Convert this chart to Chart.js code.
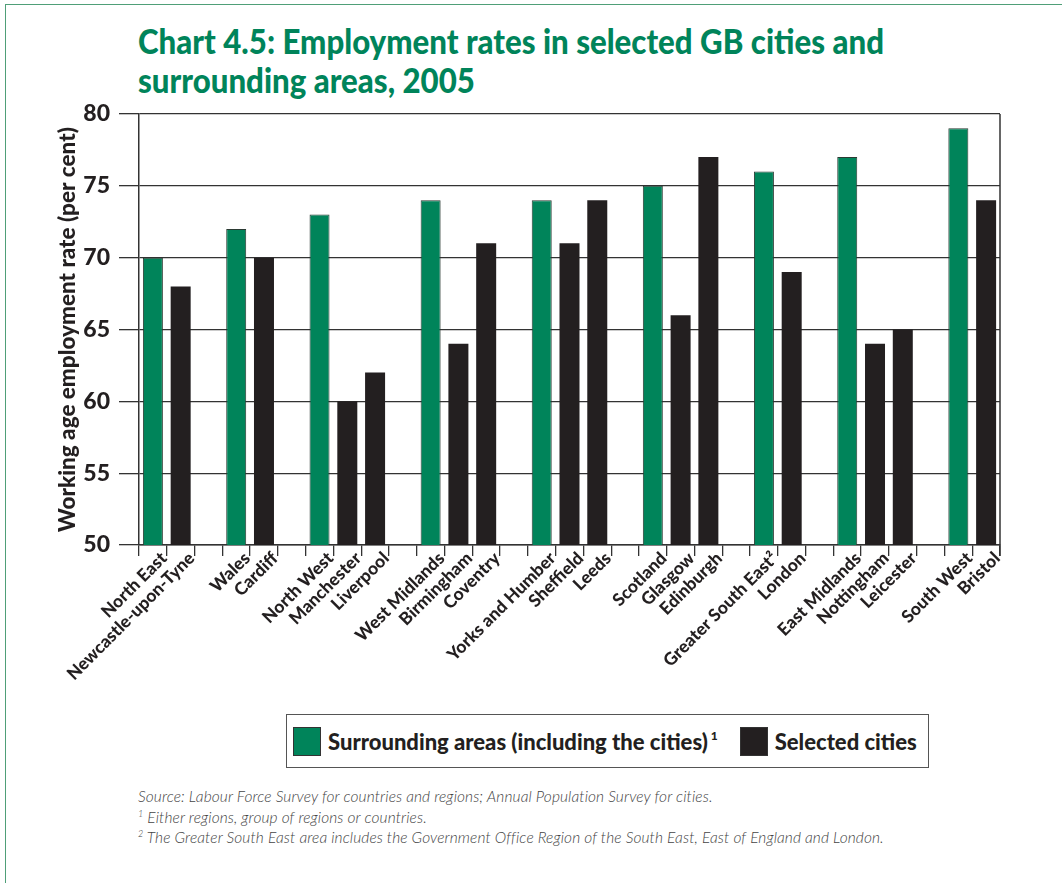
<!DOCTYPE html>
<html>
<head>
<meta charset="utf-8">
<script src="https://cdn.jsdelivr.net/npm/chart.js@4.4.1/dist/chart.umd.min.js"></script>
<style>
  body { margin: 0; background: #fff; font-family: Lato, sans-serif; }
  #page { position: relative; width: 1062px; height: 883px; overflow: hidden; }
  #frame { position: absolute; left: 5px; top: 4px; width: 1200px; height: 1000px;
    border-top: 1.5px solid #4f9f78; border-left: 1.5px solid #4f9f78; }
  .title { position: absolute; left: 138px; color: #00845a; font-weight: 900; font-size: 34px;
    white-space: nowrap; transform-origin: left center; }
  #chartBox { position: absolute; left: 0; top: 0; width: 1062px; height: 700px; }
  #legend { position: absolute; left: 286px; top: 714px; width: 643px; height: 54px;
    border: 1.5px solid #555; display: flex; align-items: center; box-sizing: border-box; }
  .item { display: flex; align-items: center; font-weight: 900; font-size: 22px; color: #231f20;
    white-space: nowrap; flex: none; }
  .swatch { width: 28px; height: 29px; border: 1px solid #333; box-sizing: border-box; margin-right: 7px; }
  .notes { position: absolute; left: 138px; top: 786px; font-style: italic; font-weight: 300;
    font-size: 15.5px; color: #444; line-height: 20.5px; letter-spacing: 0.1px; }
  .notes sup { font-size: 9px; vertical-align: 6px; line-height: 0; }
</style>
</head>
<body>
<div id="page">
  <div id="frame"></div>
  <div class="title" id="t1" style="top:20px">Chart 4.5: Employment rates in selected GB cities and</div>
  <div class="title" id="t2" style="top:59px">surrounding areas, 2005</div>
  <div id="chartBox"><canvas id="chart"></canvas></div>
  <div id="legend"></div>
  <div class="notes">
    <div>Source: Labour Force Survey for countries and regions; Annual Population Survey for cities.</div>
    <div><sup>1</sup> Either regions, group of regions or countries.</div>
    <div><sup>2</sup> The Greater South East area includes the Government Office Region of the South East, East of England and London.</div>
  </div>
</div>
<script>
// empty strings are the gaps between groups
const categories = ['North East', 'Newcastle-upon-Tyne', '', 'Wales', 'Cardiff', '',
  'North West', 'Manchester', 'Liverpool', '', 'West Midlands', 'Birmingham', 'Coventry', '',
  'Yorks and Humber', 'Sheffield', 'Leeds', '', 'Scotland', 'Glasgow', 'Edinburgh', '',
  'Greater South East²', 'London', '', 'East Midlands', 'Nottingham', 'Leicester', '',
  'South West', 'Bristol'];

const surroundingAreas = [70, null, null, 72, null, null, 73, null, null, null, 74, null, null, null,
  74, null, null, null, 75, null, null, null, 76, null, null, 77, null, null, null, 79, null];

const selectedCities = [null, 68, null, null, 70, null, null, 60, 62, null, null, 64, 71, null,
  null, 71, 74, null, null, 66, 77, null, null, 69, null, null, 64, 65, null, null, 74];

const yTicks = [50, 55, 60, 65, 70, 75, 80];

const GREEN = '#00845a';
const DARK = '#231f20';

// squeeze the title to the width of the original
const t1 = document.getElementById('t1');
const t2 = document.getElementById('t2');
const sx = 746 / t1.getBoundingClientRect().width;
t1.style.transform = t2.style.transform = 'scaleX(' + sx + ')';

const rightBorder = {
  id: 'rightBorder',
  afterDraw(chart) {
    const { ctx, chartArea } = chart;
    ctx.save();
    ctx.strokeStyle = '#333';
    ctx.lineWidth = 1.5;
    ctx.beginPath();
    ctx.moveTo(chartArea.right, chartArea.top);
    ctx.lineTo(chartArea.right, chartArea.bottom + 11);
    ctx.stroke();
    ctx.restore();
  }
};

const datasets = [
  { label: 'Surrounding areas (including the cities)', sup: '1', data: surroundingAreas,
    backgroundColor: GREEN, borderColor: '#2b3a33', borderWidth: 1 },
  { label: 'Selected cities', data: selectedCities,
    backgroundColor: DARK, borderColor: DARK, borderWidth: 0 }
];

new Chart(document.getElementById('chart'), {
  type: 'bar',
  data: {
    labels: categories,
    datasets: datasets.map(d => ({ ...d, grouped: false, barPercentage: 0.72, categoryPercentage: 1 }))
  },
  options: {
    responsive: true,
    maintainAspectRatio: false,
    animation: false,
    layout: { padding: { top: 114, right: 62, left: 0, bottom: 0 } },
    plugins: { legend: { display: false }, tooltip: { enabled: false } },
    scales: {
      x: {
        afterFit(scale) { scale.height = 155; },
        grid: { display: true, drawOnChartArea: false, drawTicks: true, tickLength: 11,
          offset: true, color: '#333', lineWidth: 1.3 },
        border: { display: true, color: '#333', width: 1.5 },
        ticks: { autoSkip: false, minRotation: 45, maxRotation: 45, padding: -8, labelOffset: 11,
          color: DARK, font: { family: 'Lato', weight: '900', size: 17.5 } }
      },
      y: {
        min: 50, max: 80,
        afterFit(scale) { scale.width = 139; },
        afterBuildTicks(scale) { scale.ticks = yTicks.map(v => ({ value: v })); },
        grid: { color: '#333', lineWidth: 1.3, tickLength: 20 },
        border: { display: true, color: '#333', width: 1.5 },
        ticks: { padding: 9, color: DARK, font: { family: 'Lato', weight: '900', size: 23 } },
        title: { display: true, text: 'Working age employment rate (per cent)', color: DARK,
          padding: { top: 54 }, font: { family: 'Lato', weight: '900', size: 22.5 } }
      }
    }
  },
  plugins: [rightBorder]
});

// legend built from the datasets
const legend = document.getElementById('legend');
datasets.forEach((d, i) => {
  const item = document.createElement('div');
  item.className = 'item';
  item.style.marginLeft = i === 0 ? '6px' : '22px';
  item.innerHTML = '<span class="swatch" style="background:' + d.backgroundColor + '"></span>' +
    '<span>' + d.label + '</span>' +
    (d.sup ? '<span style="font-size:12px;align-self:flex-start;margin:1px 0 0 3px">' + d.sup + '</span>' : '');
  legend.appendChild(item);
});
</script>
</body>
</html>
